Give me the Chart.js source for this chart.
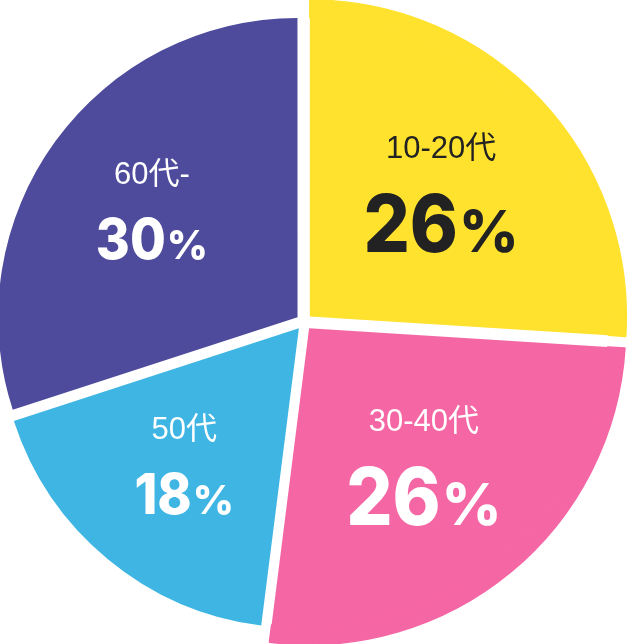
<!DOCTYPE html>
<html>
<head>
<meta charset="utf-8">
<script src="https://cdn.jsdelivr.net/npm/chart.js@4.4.1/dist/chart.umd.min.js"></script>
<style>
  html, body { margin: 0; padding: 0; background: #ffffff; }
  #wrap { width: 628px; height: 644px; position: relative; }
</style>
</head>
<body>
<div id="wrap"><canvas id="c" width="628" height="644"></canvas></div>
<script>
// ---- data ----
const categories = ['10-20代', '30-40代', '50代', '60代-'];
const shares = [26, 26, 18, 30];
const valueLabels = ['26', '26', '18', '30'];

// ---- style ----
const sliceColors = ['#FFE22E', '#F566A5', '#3EB5E3', '#4E4B9D'];
const textColors = ['#222222', '#ffffff', '#ffffff', '#ffffff'];
const outerRingColors = ['#FFE22E', '#F566A5', 'rgba(0,0,0,0)', 'rgba(0,0,0,0)'];
const labelSizes = [
  { value: 80, pct: 58, above: 35.5, below: 58.5 },
  { value: 80, pct: 58, above: 35.5, below: 58.5 },
  { value: 57, pct: 40, above: 27.5, below: 47.5 },
  { value: 57, pct: 40, above: 27.5, below: 47.5 }
];
const digitSqueeze = 0.91;

const labelPlugin = {
  id: 'sliceLabels',
  afterDatasetsDraw(chart) {
    const meta = chart.getDatasetMeta(1);
    const ctx = chart.ctx;
    ctx.save();
    meta.data.forEach((arc, i) => {
      const { x, y, startAngle, endAngle } = arc.getProps(['x', 'y', 'startAngle', 'endAngle'], true);
      const mid = (startAngle + endAngle) / 2;
      const shift = (arc.options.offset || 0) / 4 + 180;
      const px = x + Math.cos(mid) * shift;
      const py = y + Math.sin(mid) * shift;
      const s = labelSizes[i];
      ctx.fillStyle = textColors[i];
      ctx.textBaseline = 'alphabetic';
      ctx.textAlign = 'center';
      ctx.font = '31px "Liberation Sans", "Noto Sans CJK JP", sans-serif';
      ctx.fillText(categories[i], px, py - s.above);
      // value + percent
      ctx.textAlign = 'left';
      const vf = '800 ' + s.value + 'px Inter, "Noto Sans", sans-serif';
      const pf = '800 ' + s.pct + 'px Inter, "Noto Sans", sans-serif';
      ctx.font = vf;
      const wv = ctx.measureText(valueLabels[i]).width * digitSqueeze;
      ctx.font = pf;
      const wp = ctx.measureText('%').width;
      const gap = 1;
      const left = px - (wv + gap + wp) / 2;
      ctx.font = vf;
      ctx.save();
      ctx.translate(left, py + s.below);
      ctx.scale(digitSqueeze, 1);
      ctx.fillText(valueLabels[i], 0, 0);
      ctx.restore();
      ctx.font = pf;
      ctx.fillText('%', left + wv + gap, py + s.below);
    });
    ctx.restore();
  }
};

new Chart(document.getElementById('c'), {
  type: 'pie',
  data: {
    labels: categories,
    datasets: [
      {
        data: shares,
        backgroundColor: outerRingColors,
        borderColor: outerRingColors,
        borderWidth: 1.5,
        borderAlign: 'center',
        offset: 32,
        weight: 17.5,
        radius: 316.5,
        clip: false
      },
      {
        data: shares,
        backgroundColor: sliceColors,
        borderWidth: 0,
        offset: 32,
        weight: 299,
        radius: 316.5,
        clip: false
      }
    ]
  },
  options: {
    responsive: false,
    animation: false,
    events: [],
    layout: { padding: { left: 0, right: 20, top: 0, bottom: 0 } },
    plugins: {
      legend: { display: false },
      tooltip: { enabled: false }
    }
  },
  plugins: [labelPlugin]
});
</script>
</body>
</html>
